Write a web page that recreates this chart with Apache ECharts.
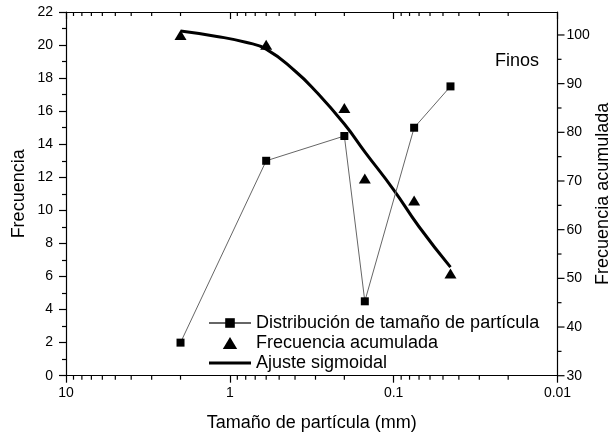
<!DOCTYPE html>
<html>
<head>
<meta charset="utf-8">
<script src="https://cdn.jsdelivr.net/npm/echarts@6/dist/echarts.min.js"></script>
<style>html,body{margin:0;padding:0;background:#fff;}#c{width:613px;height:436px;}</style>
</head>
<body>
<div id="c"></div>
<script>
// ---- data ----
var sizes = [2.0, 0.6, 0.2, 0.15, 0.075, 0.045];           // mm
var frecuencia = [2, 13, 14.5, 4.5, 15, 17.5];              // left axis
var acumulada = [100, 98, 85, 70.5, 66, 51];                // right axis
var ajusteX = [2.0, 1.2, 0.8, 0.6, 0.4, 0.3, 0.2, 0.15, 0.1, 0.07, 0.045];
var ajusteY = [100.8, 99.7, 98.5, 97.1, 92.6, 88.5, 81.7, 76.0, 68.2, 60.6, 52.3];
var xMajorLabels = {'10': '10', '1': '1', '0.1': '0.1', '0.01': '0.01'};
var xMinorTicks = [9,8,7,6,5,4,3,2, 0.9,0.8,0.7,0.6,0.5,0.4,0.3,0.2, 0.09,0.08,0.07,0.06,0.05,0.04,0.03,0.02];
var rightMajorTicks = [30, 40, 50, 60, 70, 80, 90, 100];
var rightMinorTicks = [35, 45, 55, 65, 75, 85, 95];
var leftName = 'Frecuencia';
var rightName = 'Frecuencia acumulada';
var xName = 'Tamaño de partícula (mm)';
var legendNames = ['Distribución de tamaño de partícula', 'Frecuencia acumulada', 'Ajuste sigmoidal'];
var annotation = 'Finos';

var FONT = 'Liberation Sans, Arial, sans-serif';
var RIGHT_MIN = 30, RIGHT_MAX = 104.72;
function pairs(xs, ys) { return xs.map(function (x, i) { return [x, ys[i]]; }); }
function fmtX(v) {
  var k = String(+(+v).toPrecision(6));
  return xMajorLabels[k] !== undefined ? xMajorLabels[k] : '';
}
var chart = echarts.init(document.getElementById('c'), null, {renderer: 'canvas'});
var axisLine = {show: true, lineStyle: {color: '#000', width: 1.2}};
var tickStyle = {color: '#000', width: 1.2};
var xBase = {type: 'log', logBase: 10, min: 0.01, max: 10, inverse: true, splitLine: {show: false}};
var option = {
  animation: false,
  backgroundColor: '#fff',
  textStyle: {fontFamily: FONT},
  grid: {left: 66, right: 55.5, top: 12, bottom: 60.3, containLabel: false, outerBoundsMode: 'none'},
  xAxis: [
    Object.assign({}, xBase, {position: 'bottom',
      axisLine: axisLine,
      axisTick: {show: true, inside: false, length: 7, lineStyle: tickStyle},
      axisLabel: {show: true, formatter: fmtX, color: '#000', fontSize: 14, margin: 10, fontFamily: FONT},
      name: xName, nameLocation: 'middle', nameGap: 38, nameMoveOverlap: false,
      nameTextStyle: {fontSize: 18, color: '#000', fontFamily: FONT}}),
    Object.assign({}, xBase, {position: 'top',
      axisLine: axisLine,
      axisTick: {show: true, inside: true, length: 7, lineStyle: tickStyle},
      axisLabel: {show: false}})
  ],
  yAxis: [
    {type: 'value', position: 'left', min: 0, max: 22, interval: 2,
      axisLine: axisLine, splitLine: {show: false},
      axisTick: {show: true, inside: false, length: 7, lineStyle: tickStyle},
      minorTick: {show: true, splitNumber: 2, length: 4, lineStyle: tickStyle},
      axisLabel: {color: '#000', fontSize: 14, margin: 13, fontFamily: FONT},
      name: leftName, nameLocation: 'middle', nameGap: 38, nameRotate: 90, nameMoveOverlap: false,
      nameTextStyle: {fontSize: 18, color: '#000', fontFamily: FONT}},
    {type: 'value', position: 'right', min: RIGHT_MIN, max: RIGHT_MAX, interval: 10,
      axisLine: axisLine, splitLine: {show: false},
      axisTick: {show: false}, minorTick: {show: false},
      axisLabel: {color: '#000', fontSize: 14, margin: 9, fontFamily: FONT,
        formatter: function (v) { return rightMajorTicks.indexOf(Math.round(v * 1000) / 1000) >= 0 ? String(v) : ''; }},
      name: rightName, nameLocation: 'middle', nameGap: 37, nameRotate: 90, nameMoveOverlap: false,
      nameTextStyle: {fontSize: 18, color: '#000', fontFamily: FONT}}
  ],
  legend: {
    orient: 'vertical', left: 203, top: 309,
    itemWidth: 42, itemHeight: 12, itemGap: 2,
    symbolKeepAspect: true,
    textStyle: {fontSize: 18, color: '#000', fontFamily: FONT},
    data: [
      {name: legendNames[0]},
      {name: legendNames[1], icon: 'path://M0,10 L6,0 L12,10 Z'},
      {name: legendNames[2], icon: 'path://M0,0 L42,0 L42,3 L0,3 Z'}
    ]
  },
  graphic: [
    {type: 'text', right: 613 - 539, top: 52, style: {text: annotation, fontSize: 18, fill: '#000', fontFamily: FONT}}
  ],
  series: [
    {name: legendNames[2], type: 'line', xAxisIndex: 0, yAxisIndex: 1,
      data: pairs(ajusteX, ajusteY), smooth: 0.5, symbol: 'none', clip: false,
      lineStyle: {color: '#000', width: 3}, itemStyle: {color: '#000'}, z: 2},
    {name: legendNames[0], type: 'line', xAxisIndex: 0, yAxisIndex: 0,
      data: pairs(sizes, frecuencia),
      symbol: 'rect', symbolSize: 8, showAllSymbol: true,
      lineStyle: {color: '#666', width: 1}, itemStyle: {color: '#000'}, z: 3},
    {name: legendNames[1], type: 'scatter', xAxisIndex: 0, yAxisIndex: 1,
      data: pairs(sizes, acumulada),
      symbol: 'triangle', symbolSize: [12, 10], itemStyle: {color: '#000', opacity: 1}, clip: false, z: 4},
    {name: 'minorBottom', type: 'scatter', xAxisIndex: 0, yAxisIndex: 0, silent: true,
      data: xMinorTicks.map(function (v) { return [v, 0]; }),
      symbol: 'rect', symbolSize: [1.2, 4], symbolOffset: [0, 2], itemStyle: {color: '#000', opacity: 1}, clip: false, z: 5},
    {name: 'minorTop', type: 'scatter', xAxisIndex: 0, yAxisIndex: 0, silent: true,
      data: xMinorTicks.map(function (v) { return [v, 22]; }),
      symbol: 'rect', symbolSize: [1.2, 4], symbolOffset: [0, 2], itemStyle: {color: '#000', opacity: 1}, clip: false, z: 5},
    {name: 'rightMajor', type: 'scatter', xAxisIndex: 0, yAxisIndex: 1, silent: true,
      data: rightMajorTicks.map(function (v) { return [0.01, v]; }),
      symbol: 'rect', symbolSize: [7, 1.2], symbolOffset: [3.5, 0], itemStyle: {color: '#000', opacity: 1}, clip: false, z: 5},
    {name: 'rightMinor', type: 'scatter', xAxisIndex: 0, yAxisIndex: 1, silent: true,
      data: rightMinorTicks.map(function (v) { return [0.01, v]; }),
      symbol: 'rect', symbolSize: [4, 1.2], symbolOffset: [2, 0], itemStyle: {color: '#000', opacity: 1}, clip: false, z: 5}
  ]
};
chart.setOption(option);
</script>
</body>
</html>
